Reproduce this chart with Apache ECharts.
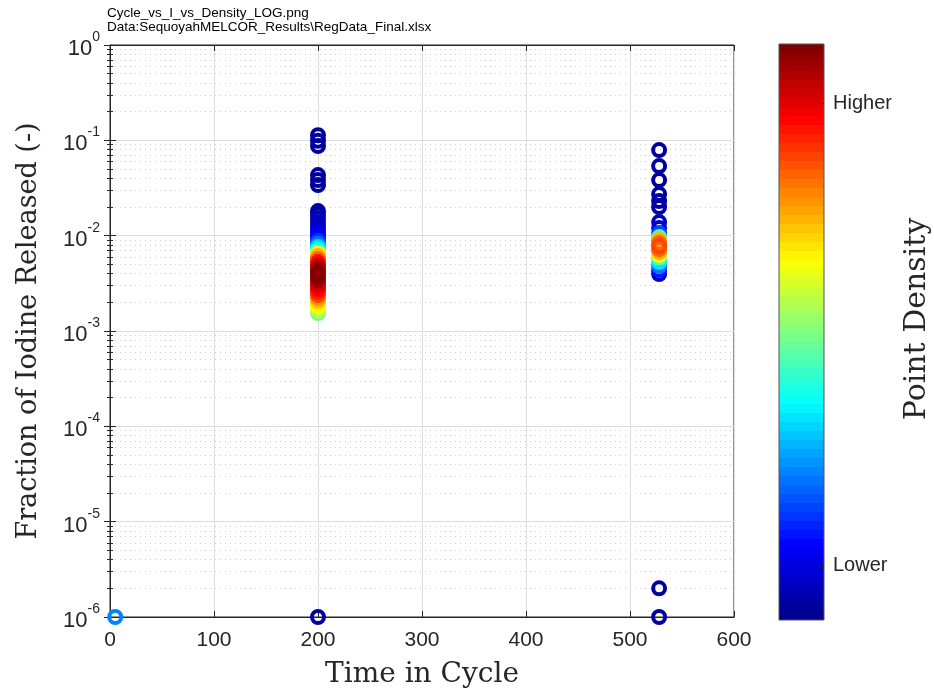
<!DOCTYPE html>
<html>
<head>
<meta charset="utf-8">
<title>Cycle_vs_I_vs_Density_LOG</title>
<script src="https://cdn.jsdelivr.net/npm/echarts@6/dist/echarts.min.js"></script>
<style>
  html, body { margin: 0; padding: 0; background: #fff; }
  #main { width: 934px; height: 691px; }
</style>
</head>
<body>
<div id="main"></div>
<script>
// time in cycle (x), fraction of iodine released (y), relative point density (color)
var timeCycle = [
  5,
  200, 200, 200, 200,
  200, 200, 200,
  200, 200, 200, 200, 200, 200, 200, 200, 200, 200, 200, 200, 200, 200, 200, 200, 200,
  200, 200, 200, 200, 200, 200, 200, 200, 200, 200, 200, 200, 200, 200, 200, 200, 200,
  528, 528, 528, 528, 528, 528, 528, 528, 528, 528, 528, 528,
  528, 528, 528, 528, 528, 528, 528, 528, 528, 528, 528
];
var iodineFraction = [
  1e-6,
  1e-6, 0.113, 0.099, 0.087,
  0.0432, 0.0383, 0.034,
  0.0181, 0.0168, 0.0153, 0.0139, 0.0126, 0.0117, 0.0109, 0.0101, 0.00944, 0.00878, 0.00816, 0.0076, 0.00706, 0.00657, 0.00611, 0.00568, 0.00528,
  0.00491, 0.00457, 0.00425, 0.00396, 0.00368, 0.00342, 0.00318, 0.00296, 0.00275, 0.00256, 0.00238, 0.00221, 0.00206, 0.00192, 0.00178, 0.00166, 0.00154,
  1e-6, 2e-6, 0.0791, 0.0537, 0.0383, 0.0273, 0.0231, 0.02, 0.0139, 0.012, 0.01065, 0.00967,
  0.00899, 0.00837, 0.00778, 0.00724, 0.00673, 0.00626, 0.00582, 0.00528, 0.0048, 0.00436, 0.00396, 0.0035
];
var pointDensity = [
  0.26,
  0.02, 0.02, 0.02, 0.02,
  0.03, 0.03, 0.03,
  0.04, 0.04, 0.05, 0.05, 0.06, 0.07, 0.08, 0.1, 0.13, 0.18, 0.25, 0.33, 0.4, 0.6, 0.7, 0.78, 0.85,
  0.9, 0.95, 0.97, 1.0, 0.98, 0.96, 0.92, 0.9, 0.87, 0.84, 0.8, 0.72, 0.68, 0.63, 0.6, 0.55, 0.5,
  0.02, 0.02, 0.02, 0.02, 0.02, 0.03, 0.03, 0.04, 0.05, 0.08, 0.2, 0.45,
  0.7, 0.78, 0.8, 0.77, 0.7, 0.6, 0.45, 0.35, 0.25, 0.15, 0.08, 0.03
];
// colorbar ticks
var colorbarTicks = [0.094, 0.897];
var colorbarLabels = ['Lower', 'Higher'];

var jet = ['#00008f', '#0000ff', '#0080ff', '#00ffff', '#80ff80', '#ffff00', '#ff8000', '#ff0000', '#800000'];

var points = [];
for (var i = 0; i < timeCycle.length; i++) {
  points.push([timeCycle[i], iodineFraction[i], pointDensity[i]]);
}
// densest points drawn last
points.sort(function (a, b) { return a[2] - b[2]; });

var ring = 'path://M0,-10A10,10 0 1,1 0,10A10,10 0 1,1 0,-10ZM0,-5A5,5 0 1,0 0,5A5,5 0 1,0 0,-5Z';
var axisColor = '#262626';
var serif = '"DejaVu Serif", "Liberation Serif", serif';
var sans = '"Liberation Sans", Arial, sans-serif';

var myChart = echarts.init(document.getElementById('main'));

var option = {
  backgroundColor: '#fff',
  animation: false,
  title: {
    text: 'Cycle_vs_I_vs_Density_LOG.png\nData:SequoyahMELCOR_Results\\RegData_Final.xlsx',
    left: 107,
    top: 6,
    padding: 0,
    textStyle: { fontFamily: sans, fontSize: 13.5, fontWeight: 'normal', color: '#000', lineHeight: 14.5 }
  },
  grid: [
    { left: 110, top: 45, width: 624, height: 572, show: true, borderColor: axisColor, borderWidth: 1, backgroundColor: 'transparent', outerBoundsMode: 'none' },
    { left: 779, top: 44, width: 45, height: 576, show: true, borderColor: '#555', borderWidth: 1, backgroundColor: 'transparent', z: 10, outerBoundsMode: 'none' }
  ],
  xAxis: [
    {
      gridIndex: 0, type: 'value', min: 0, max: 600, interval: 100,
      name: 'Time in Cycle', nameLocation: 'middle', nameGap: 44,
      nameTextStyle: { fontFamily: serif, fontSize: 28, color: axisColor },
      axisLine: { show: true, lineStyle: { color: axisColor } },
      axisTick: { inside: true, length: 6, lineStyle: { color: axisColor } },
      axisLabel: { fontFamily: sans, fontSize: 21, color: axisColor, margin: 13 },
      splitLine: { show: true, lineStyle: { color: '#dedede', width: 1 } }
    },
    {
      gridIndex: 0, type: 'value', min: 0, max: 600, interval: 100, position: 'top',
      axisLine: { show: true, lineStyle: { color: axisColor } },
      axisTick: { inside: true, length: 6, lineStyle: { color: axisColor } },
      axisLabel: { show: false }, splitLine: { show: false }
    },
    { gridIndex: 1, type: 'value', min: 0, max: 1, show: false }
  ],
  yAxis: [
    {
      gridIndex: 0, type: 'log', logBase: 10, min: 1e-6, max: 1,
      name: 'Fraction of Iodine Released (-)', nameLocation: 'middle', nameGap: 68, nameRotate: 90,
      nameTextStyle: { fontFamily: serif, fontSize: 27, color: axisColor },
      axisLine: { show: true, lineStyle: { color: axisColor } },
      axisTick: { inside: true, length: 6, lineStyle: { color: axisColor } },
      minorTick: { show: true, splitNumber: 9, length: 3, lineStyle: { color: axisColor } },
      minorSplitLine: { show: true, lineStyle: { color: '#cfcfcf', type: [1, 4] } },
      splitLine: { show: true, lineStyle: { color: '#dedede', width: 1 } },
      axisLabel: {
        margin: 10,
        formatter: function (v) {
          var e = Math.round(Math.log(v) / Math.LN10);
          return '{b|10}{s|' + e + '}';
        },
        rich: {
          b: { fontFamily: sans, fontSize: 22, color: axisColor, lineHeight: 30, verticalAlign: 'bottom' },
          s: { fontFamily: sans, fontSize: 14, color: axisColor, lineHeight: 30, verticalAlign: 'top' }
        }
      }
    },
    {
      gridIndex: 0, type: 'log', logBase: 10, min: 1e-6, max: 1, position: 'right',
      axisLine: { show: true, lineStyle: { color: axisColor } },
      axisTick: { inside: true, length: 6, lineStyle: { color: axisColor } },
      minorTick: { show: true, splitNumber: 9, length: 3, lineStyle: { color: axisColor } },
      axisLabel: { show: false }, splitLine: { show: false }
    },
    {
      gridIndex: 1, type: 'value', min: 0, max: 1, position: 'right', z: 12,
      name: 'Point Density', nameLocation: 'middle', nameGap: 78, nameRotate: 90,
      nameTextStyle: { fontFamily: serif, fontSize: 30, color: axisColor, padding: [0, 0, 0, 26] },
      axisLine: { show: false, onZero: false },
      axisTick: { show: true, inside: true, length: 5, customValues: colorbarTicks, lineStyle: { color: axisColor } },
      axisLabel: {
        customValues: colorbarTicks, margin: 9, fontFamily: sans, fontSize: 20, color: axisColor,
        formatter: function (v) { return colorbarLabels[colorbarTicks.indexOf(v)]; }
      },
      splitLine: { show: false }
    }
  ],
  visualMap: {
    type: 'piecewise',
    seriesIndex: 0,
    dimension: 2,
    min: 0, max: 1,
    splitNumber: 64,
    orient: 'vertical',
    left: 779, top: 44,
    padding: 0,
    itemWidth: 45, itemHeight: 9, itemGap: 0,
    itemSymbol: 'rect',
    showLabel: false,
    hoverLink: false,
    selectedMode: false,
    inRange: { color: jet }
  },
  series: [{
    type: 'scatter',
    xAxisIndex: 0, yAxisIndex: 0,
    symbol: ring,
    symbolSize: 16,
    itemStyle: { opacity: 1 },
    data: points,
    z: 3
  }]
};

myChart.setOption(option);
</script>
</body>
</html>
